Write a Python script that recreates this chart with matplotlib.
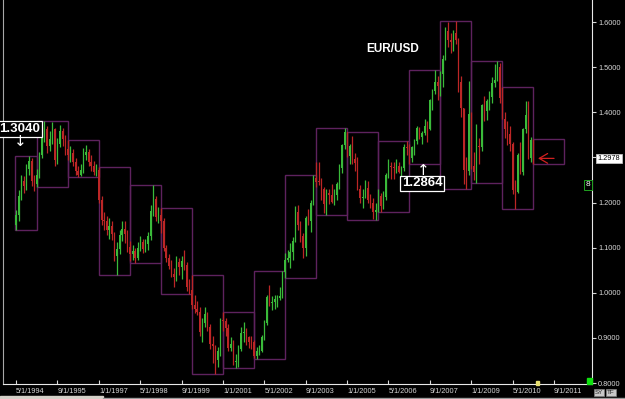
import matplotlib
matplotlib.use("Agg")
import matplotlib.pyplot as plt
import matplotlib.dates as mdates
from matplotlib.patches import Rectangle
import numpy as np
import pandas as pd

plt.rcParams['font.family'] = ['Liberation Sans', 'DejaVu Sans']

W, H = 625, 399

# monthly EUR/USD candles, May 1994 .. Jan 2011 (open = previous close)
first_month = "1994-05-01"
first_open = 1.150
closes = [
    1.172, 1.215, 1.248, 1.236, 1.275, 1.292, 1.248, 1.240,                          # 1994
    1.262, 1.305, 1.352, 1.362, 1.325, 1.340, 1.362, 1.295, 1.330, 1.358, 1.340, 1.318,  # 1995
    1.305, 1.310, 1.290, 1.270, 1.262, 1.272, 1.305, 1.312, 1.290, 1.282, 1.268, 1.272,  # 1996
    1.205, 1.162, 1.158, 1.138, 1.148, 1.130, 1.082, 1.098, 1.128, 1.142, 1.130, 1.102,  # 1997
    1.085, 1.092, 1.078, 1.100, 1.112, 1.098, 1.108, 1.125, 1.182, 1.208, 1.168, 1.172,  # 1998
    1.160, 1.100, 1.078, 1.060, 1.042, 1.035, 1.068, 1.058, 1.070, 1.062, 1.012, 1.007,  # 1999
    0.972, 0.965, 0.958, 0.912, 0.934, 0.953, 0.924, 0.887, 0.883, 0.850, 0.870, 0.939,  # 2000
    0.937, 0.921, 0.877, 0.887, 0.846, 0.848, 0.876, 0.911, 0.913, 0.903, 0.891, 0.890,  # 2001
    0.859, 0.870, 0.872, 0.901, 0.933, 0.991, 0.977, 0.979, 0.987, 0.989, 0.993, 1.046,  # 2002
    1.073, 1.077, 1.090, 1.115, 1.180, 1.150, 1.125, 1.100, 1.165, 1.160, 1.200, 1.255,  # 2003
    1.246, 1.245, 1.229, 1.197, 1.221, 1.217, 1.202, 1.217, 1.241, 1.276, 1.327, 1.356,  # 2004
    1.304, 1.325, 1.296, 1.287, 1.230, 1.210, 1.212, 1.233, 1.205, 1.199, 1.179, 1.184,  # 2005
    1.215, 1.192, 1.212, 1.262, 1.282, 1.279, 1.276, 1.281, 1.268, 1.277, 1.324, 1.320,  # 2006
    1.298, 1.323, 1.336, 1.366, 1.345, 1.354, 1.370, 1.363, 1.427, 1.448, 1.468, 1.459,  # 2007
    1.485, 1.518, 1.579, 1.560, 1.555, 1.576, 1.560, 1.468, 1.409, 1.273, 1.270, 1.397,  # 2008
    1.280, 1.267, 1.325, 1.323, 1.415, 1.403, 1.425, 1.434, 1.464, 1.472, 1.500, 1.432,  # 2009
    1.386, 1.363, 1.351, 1.330, 1.227, 1.223, 1.305, 1.268, 1.362, 1.393, 1.299, 1.338,  # 2010
    1.2978,                                                                           # 2011
]
highs = [
    1.183, 1.228, 1.262, 1.258, 1.285, 1.304, 1.298, 1.262,
    1.275, 1.312, 1.368, 1.380, 1.370, 1.358, 1.378, 1.366, 1.342, 1.372, 1.365, 1.350,
    1.338, 1.325, 1.318, 1.298, 1.282, 1.285, 1.320, 1.328, 1.318, 1.305, 1.292, 1.286,
    1.278, 1.215, 1.180, 1.170, 1.165, 1.158, 1.135, 1.112, 1.140, 1.160, 1.158, 1.138,
    1.115, 1.105, 1.100, 1.112, 1.125, 1.120, 1.120, 1.135, 1.195, 1.239, 1.215, 1.190,
    1.188, 1.165, 1.105, 1.085, 1.072, 1.055, 1.082, 1.078, 1.082, 1.095, 1.068, 1.030,
    1.039, 0.995, 0.982, 0.968, 0.945, 0.968, 0.958, 0.930, 0.905, 0.885, 0.880, 0.945,
    0.957, 0.945, 0.930, 0.902, 0.895, 0.865, 0.885, 0.925, 0.935, 0.922, 0.905, 0.905,
    0.895, 0.880, 0.885, 0.906, 0.940, 0.995, 1.017, 0.992, 0.995, 0.995, 1.012, 1.048,
    1.088, 1.094, 1.110, 1.124, 1.192, 1.194, 1.160, 1.132, 1.170, 1.185, 1.205, 1.261,
    1.290, 1.290, 1.255, 1.235, 1.230, 1.230, 1.240, 1.230, 1.245, 1.285, 1.330, 1.365,
    1.356, 1.330, 1.348, 1.310, 1.300, 1.238, 1.230, 1.250, 1.248, 1.218, 1.210, 1.200,
    1.230, 1.220, 1.225, 1.265, 1.297, 1.290, 1.290, 1.296, 1.290, 1.282, 1.330, 1.336,
    1.330, 1.325, 1.340, 1.370, 1.368, 1.358, 1.385, 1.380, 1.430, 1.452, 1.494, 1.480,
    1.492, 1.528, 1.590, 1.600, 1.575, 1.583, 1.602, 1.565, 1.480, 1.410, 1.300, 1.470,
    1.400, 1.312, 1.375, 1.342, 1.418, 1.435, 1.430, 1.448, 1.478, 1.508, 1.514, 1.510,
    1.456, 1.400, 1.381, 1.370, 1.335, 1.250, 1.310, 1.333, 1.365, 1.425, 1.424, 1.345,
    1.341,
]
lows = [
    1.139, 1.160, 1.205, 1.222, 1.228, 1.262, 1.236, 1.225,
    1.234, 1.255, 1.298, 1.335, 1.310, 1.315, 1.330, 1.282, 1.285, 1.322, 1.325, 1.305,
    1.295, 1.290, 1.280, 1.260, 1.256, 1.258, 1.265, 1.295, 1.282, 1.270, 1.260, 1.258,
    1.198, 1.150, 1.140, 1.128, 1.120, 1.118, 1.070, 1.039, 1.085, 1.115, 1.110, 1.090,
    1.070, 1.072, 1.066, 1.072, 1.092, 1.088, 1.090, 1.095, 1.118, 1.170, 1.158, 1.155,
    1.132, 1.092, 1.068, 1.052, 1.035, 1.012, 1.025, 1.040, 1.030, 1.050, 1.005, 0.997,
    0.965, 0.955, 0.950, 0.905, 0.890, 0.925, 0.915, 0.875, 0.845, 0.820, 0.835, 0.860,
    0.915, 0.905, 0.870, 0.870, 0.840, 0.833, 0.835, 0.870, 0.890, 0.885, 0.878, 0.875,
    0.855, 0.853, 0.862, 0.868, 0.895, 0.928, 0.970, 0.962, 0.965, 0.968, 0.985, 0.988,
    1.032, 1.068, 1.055, 1.072, 1.112, 1.140, 1.112, 1.076, 1.082, 1.150, 1.135, 1.195,
    1.235, 1.238, 1.205, 1.176, 1.172, 1.196, 1.200, 1.195, 1.205, 1.230, 1.265, 1.318,
    1.300, 1.285, 1.285, 1.270, 1.228, 1.200, 1.187, 1.210, 1.200, 1.187, 1.164, 1.161,
    1.180, 1.179, 1.186, 1.205, 1.255, 1.252, 1.252, 1.265, 1.265, 1.250, 1.270, 1.305,
    1.2864, 1.290, 1.305, 1.330, 1.340, 1.330, 1.350, 1.335, 1.360, 1.405, 1.440, 1.428,
    1.435, 1.455, 1.515, 1.545, 1.532, 1.535, 1.552, 1.445, 1.390, 1.240, 1.230, 1.260,
    1.275, 1.250, 1.243, 1.286, 1.315, 1.380, 1.382, 1.405, 1.420, 1.455, 1.470, 1.420,
    1.384, 1.344, 1.328, 1.315, 1.218, 1.185, 1.220, 1.264, 1.262, 1.355, 1.297, 1.290,
    1.286,
]

tick_dates = ["1994-05-01", "1995-09-01", "1997-01-01", "1998-05-01", "1999-09-01",
              "2001-01-01", "2002-05-01", "2003-09-01", "2005-01-01", "2006-05-01",
              "2007-09-01", "2009-01-01", "2010-05-01", "2011-09-01"]
tick_labels = ["5/1/1994", "9/1/1995", "1/1/1997", "5/1/1998", "9/1/1999",
               "1/1/2001", "5/1/2002", "9/1/2003", "1/1/2005", "5/1/2006",
               "9/1/2007", "1/1/2009", "5/1/2010", "9/1/2011"]
price_ticks = [0.8, 0.9, 1.0, 1.1, 1.2, 1.3, 1.4, 1.5, 1.6]
title = "EUR/USD"

months = pd.date_range(first_month, periods=len(closes), freq="MS")
x = mdates.date2num(months)
c = np.array(closes)
hi = np.array(highs)
lo = np.array(lows)
o = np.r_[first_open, c[:-1]]
up = c >= o
col = np.where(up, '#3aba3a', '#bc2626')


def fpx(px, py):
    # pixel position (from top-left) -> figure fraction
    return px / W, 1 - py / H


fig = plt.figure(figsize=(W / 100, H / 100), dpi=100, facecolor='black')
ax = fig.add_axes([3 / W, 15 / H, 589 / W, 384 / H])
ax.set_facecolor('black')

# candles
ax.vlines(x, lo, hi, colors=col, lw=0.9, zorder=3)
body = np.maximum(np.abs(c - o), 0.002)
ax.bar(x, body, bottom=np.minimum(o, c), width=15, color=col, lw=0, zorder=4)

# yearly high/low boxes
years = months.year
for yr in np.unique(years):
    sel = years == yr
    x0 = mdates.date2num(pd.Timestamp(f"{yr}-01-01"))
    if yr == years[0]:
        x0 = x[sel][0] - 12
    x1 = mdates.date2num(pd.Timestamp(f"{yr + 1}-01-01"))
    ylo, yhi = lo[sel].min(), hi[sel].max()
    ax.add_patch(Rectangle((x0, ylo), x1 - x0, yhi - ylo, fill=False,
                           ec='#5e225e', lw=1, zorder=2))

ax.set_xlim(mdates.date2num(pd.Timestamp("1993-11-29")),
            mdates.date2num(pd.Timestamp("2012-11-21")))
ax.set_ylim(0.7978, 1.6488)

ax.spines['top'].set_visible(False)
ax.spines['left'].set_color('#a8a8a8')
ax.spines['right'].set_color('#e8e8e8')
ax.spines['bottom'].set_color('#e8e8e8')

ax.yaxis.tick_right()
ax.set_yticks(price_ticks)
ax.set_yticklabels([f"{v:.4f}" for v in price_ticks])
ax.tick_params(axis='y', colors='#d8d8d8', length=3, width=0.8, pad=1.5, labelsize=5.3)

ax.set_xticks(mdates.date2num(pd.to_datetime(tick_dates)))
ax.set_xticklabels(tick_labels)
ax.tick_params(axis='x', colors='#d8d8d8', direction='in', length=3, width=0.8,
               pad=3, labelsize=5.3)
for lbl in ax.get_xticklabels():
    lbl.set_ha('left')

# annotations
hi94 = hi[years == years[0]].max()
lo07 = lo[years == 2007].min()
box = dict(boxstyle='square,pad=0.15', fc='black', ec='white', lw=0.9)
fig.text(*fpx(20, 129), f"{hi94:.4f}", color='white', fontsize=9.5, fontweight='bold',
         ha='center', va='center', bbox=box)
fig.text(*fpx(20, 142), "↓", color='white', fontsize=11, ha='center', va='center',
         family='DejaVu Sans')
fig.text(*fpx(422, 183.5), f"{lo07:.4f}", color='white', fontsize=9.5, fontweight='bold',
         ha='center', va='center', bbox=box)
fig.text(*fpx(423, 170.5), "↑", color='white', fontsize=11, ha='center', va='center',
         family='DejaVu Sans')
fig.text(*fpx(393, 49), title, color='white', fontsize=8.5, fontweight='bold',
         ha='center', va='center')

# last price marker
fig.text(*fpx(609, 158.5), f"{c[-1]:.4f}", color='black', fontsize=5.3, ha='center',
         va='center', bbox=dict(boxstyle='square,pad=0.2', fc='white', ec='#c0c0c0', lw=0.6))
ax.annotate('', xy=(x[-1] + 55, c[-1]), xytext=(16, 0), textcoords='offset pixels',
            arrowprops=dict(arrowstyle='->,head_length=0.6,head_width=0.35',
                            color='#d02020', lw=0.9, mutation_scale=10,
                            shrinkA=0, shrinkB=0))

# small widgets
fig.text(*fpx(588, 185), "8", color='white', fontsize=6, ha='center', va='center',
         bbox=dict(boxstyle='square,pad=0.15', fc='black', ec='#20a020', lw=0.7))
fig.add_artist(Rectangle(fpx(587, 384), 5 / W, 6 / H, transform=fig.transFigure,
                         color='#10e010'))
fig.add_artist(Rectangle(fpx(536, 385), 3 / W, 4 / H, transform=fig.transFigure,
                         color='#e8e070'))
fig.text(*fpx(599, 392.5), "SY", color='#202020', fontsize=4.5, ha='center', va='center',
         bbox=dict(boxstyle='square,pad=0.15', fc='#c8c8c8', ec='#808080', lw=0.5))
fig.text(*fpx(611, 392.5), "TF", color='#202020', fontsize=4.5, ha='center', va='center',
         bbox=dict(boxstyle='square,pad=0.15', fc='#c8c8c8', ec='#808080', lw=0.5))
fig.add_artist(Rectangle(fpx(0, 399), 103 / W, 3 / H, transform=fig.transFigure,
                         color='#d4d0c8'))
fig.add_artist(Rectangle(fpx(103, 399), 522 / W, 1.5 / H, transform=fig.transFigure,
                         color='#9a9a9a'))

fig.savefig("out.png", dpi=100, facecolor='black')
